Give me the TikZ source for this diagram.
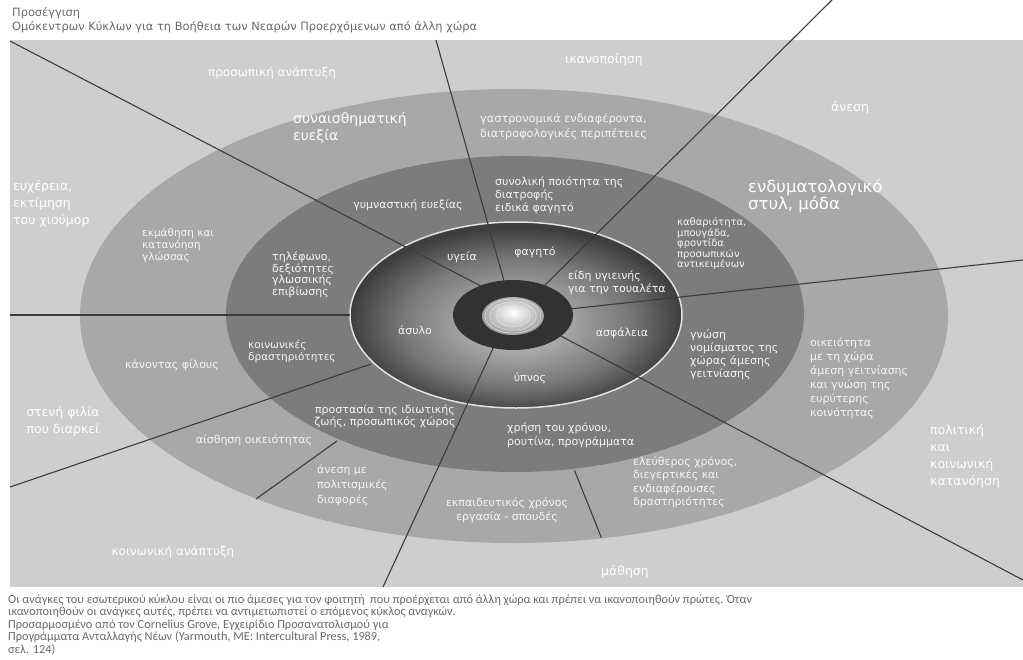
\documentclass[tikz,border=0pt]{standalone}
\usepackage{fontspec}
\setmainfont{DejaVu Sans}
\newfontfamily\notefont{Carlito}
\definecolor{fieldgray}{RGB}{206,206,206}
\definecolor{outergray}{RGB}{168,168,168}
\definecolor{bandgray}{RGB}{124,124,124}
\definecolor{hubdark}{RGB}{50,50,50}
\definecolor{bowlin}{RGB}{200,200,200}
\definecolor{bowlout}{RGB}{62,62,62}
\definecolor{spokegray}{RGB}{60,60,60}
\definecolor{notegray}{RGB}{105,105,105}
% radial shadings are fitted so that 25bp meets the bounding box
\pgfdeclareradialshading{bowl}{\pgfpoint{0bp}{-3bp}}{color(0bp)=(bowlin); color(7bp)=(bowlin!78!bowlout); color(17bp)=(bowlin!42!bowlout); color(25bp)=(bowlout); color(50bp)=(bowlout)}
\pgfdeclareradialshading{knob}{\pgfpoint{0bp}{5bp}}{color(0bp)=(white); color(8bp)=(gray!20); color(18bp)=(gray!50); color(25bp)=(gray!75); color(50bp)=(gray!75)}
\tikzset{
  spoke/.style={draw=spokegray,line width=1.1pt},
  bowl rim/.style={draw=gray!22,line width=1.5pt},
  field label/.style={text=white,font=\fontsize{12.5}{17}\selectfont,inner sep=0pt},
  band label/.style={text=white!96!black,font=\fontsize{11}{13}\selectfont,inner sep=0pt},
  note text/.style={text=notegray,inner sep=0pt,align=left,anchor=west}
}

\begin{document}
\begin{tikzpicture}[x=1pt,y=-1pt]
  \useasboundingbox (0,0) rectangle (1023,659);

  % grey field and the rings, outside in
  \fill[fieldgray] (10,40) rectangle (1023,587);
  \fill[outergray] (514,316) ellipse [x radius=434pt, y radius=227pt];
  \fill[bandgray] (515,314) ellipse [x radius=289pt, y radius=158pt];
  \shade[shading=bowl] (516,315) ellipse [x radius=166pt, y radius=93pt];
  \draw[bowl rim] (516,315) ellipse [x radius=166pt, y radius=93pt];

  % spokes
  \draw[spoke] (10,41) -- (500,296);
  \draw[spoke] (436,40) -- (508,295);
  \draw[spoke] (832,0) -- (530,300);
  \draw[spoke] (1023,260) -- (560,310);
  \draw[spoke] (1023,580) -- (540,325);
  \draw[spoke] (383,587) -- (507,318);
  \draw[spoke] (574.5,470.4) -- (601.5,538);
  \draw[spoke] (337,441) -- (256,499);
  \draw[spoke] (371,364) -- (10,487);
  \draw[spoke] (350,315) -- (10,315);

  % hub
  \fill[hubdark] (513,315) ellipse [x radius=60pt, y radius=35pt];
  \shade[shading=knob] (513,316) ellipse [x radius=31pt, y radius=19pt];
  \foreach \r in {0.55,0.75,0.9}
    \draw[white!80!gray,line width=0.5pt] (513,316) ellipse [x radius=31*\r pt, y radius=19*\r pt];

  % title and source
  \node[note text,font=\fontsize{11.4}{14}\selectfont] (title) at (12,20)
    {Προσέγγιση\\Ομόκεντρων Κύκλων για τη Βοήθεια των Νεαρών Προερχόμενων από άλλη χώρα};
  \node[note text,font=\notefont\fontsize{12.3}{12.5}\selectfont] (source) at (8,625)
    {Οι ανάγκες του εσωτερικού κύκλου είναι οι πιο άμεσες για τον φοιτητή \ που προέρχεται από άλλη χώρα και πρέπει να ικανοποιηθούν πρώτες. Όταν\\
     ικανοποιηθούν οι ανάγκες αυτές, πρέπει να αντιμετωπιστεί ο επόμενος κύκλος αναγκών.\\
     Προσαρμοσμένο από τον Cornelius Grove, Εγχειρίδιο Προσανατολισμού για\\
     Προγράμματα Ανταλλαγής Νέων (Yarmouth, ME: Intercultural Press, 1989,\\
     σελ. 124)};

  % outer field
  \node[field label,font=\fontsize{12}{17}\selectfont] (personal) at (272,73) {προσωπική ανάπτυξη};
  \node[field label] (content) at (604,60) {ικανοποίηση};
  \node[field label] (ease) at (850,108) {άνεση};
  \node[field label,align=left,anchor=west] (humour) at (13,204) {ευχέρεια,\\εκτίμηση\\του χιούμορ};
  \node[field label,align=center] (friendship) at (63,421) {στενή φιλία\\που διαρκεί};
  \node[field label,align=left,anchor=west] (politics) at (930,456) {πολιτική\\και\\κοινωνική\\κατανόηση};
  \node[field label,font=\fontsize{12}{17}\selectfont] (social) at (173,552) {κοινωνική ανάπτυξη};
  \node[field label] (learning) at (625,572) {μάθηση};

  % outer ring
  \node[field label,font=\fontsize{14}{17}\selectfont,align=left,anchor=west] (empathy) at (293,128) {συναισθηματική\\ευεξία};
  \node[band label,font=\fontsize{11.3}{15}\selectfont,align=left,anchor=west] (cuisine) at (480,127) {γαστρονομικά ενδιαφέροντα,\\διατροφολογικές περιπέτειες};
  \node[field label,font=\fontsize{16.5}{16}\selectfont,align=left,anchor=west] (clothing) at (748,196) {ενδυματολογικό\\στυλ, μόδα};
  \node[band label,font=\fontsize{10.5}{12}\selectfont,align=left,anchor=west] (language) at (142,245) {εκμάθηση και\\κατανόηση\\γλώσσας};
  \node[band label] (friends) at (172,365) {κάνοντας φίλους};
  \node[band label] (belonging) at (254,440) {αίσθηση οικειότητας};
  \node[band label,font=\fontsize{11}{14}\selectfont,align=left,anchor=west] (neighbour) at (810,378)
    {οικειότητα\\με τη χώρα\\άμεση γειτνίασης\\και γνώση της\\ευρύτερης\\κοινότητας};
  \node[band label,font=\fontsize{11}{15}\selectfont,align=left,anchor=west] (culture) at (317,485) {άνεση με\\πολιτισμικές\\διαφορές};
  \node[band label,font=\fontsize{11}{14}\selectfont,align=center] (study) at (507,510) {εκπαιδευτικός χρόνος\\εργασία - σπουδές};
  \node[band label,font=\fontsize{11}{13.5}\selectfont,align=left,anchor=west] (leisure) at (633,482)
    {ελεύθερος χρόνος,\\διεγερτικές και\\ενδιαφέρουσες\\δραστηριότητες};

  % middle band
  \node[band label] (fitness) at (408,205) {γυμναστική ευεξίας};
  \node[band label,align=left,anchor=west] (diet) at (495,195) {συνολική ποιότητα της\\διατροφής\\ειδικά φαγητό};
  \node[band label,font=\fontsize{11}{11.5}\selectfont,align=left,anchor=west] (phone) at (272,275) {τηλέφωνο,\\δεξιότητες\\γλωσσικής\\επιβίωσης};
  \node[band label,font=\fontsize{10}{10.5}\selectfont,align=left,anchor=west] (laundry) at (677,244)
    {καθαριότητα,\\μπουγάδα,\\φροντίδα\\προσωπικών\\αντικειμένων};
  \node[band label,font=\fontsize{10.5}{12}\selectfont,align=left,anchor=west] (activities) at (248,351) {κοινωνικές\\δραστηριότητες};
  \node[band label,align=left,anchor=west] (money) at (690,355) {γνώση\\νομίσματος της\\χώρας άμεσης\\γειτνίασης};
  \node[band label,font=\fontsize{11}{12.5}\selectfont,align=center] (privacy) at (385,416) {προστασία της ιδιωτικής\\ζωής, προσωπικός χώρος};
  \node[band label,font=\fontsize{11}{14}\selectfont,align=left,anchor=west] (routine) at (507,435) {χρήση του χρόνου,\\ρουτίνα, προγράμματα};

  % inner ring
  \node[band label] (health) at (462,257) {υγεία};
  \node[band label] (food) at (535,252) {φαγητό};
  \node[band label,align=left,anchor=west] (toiletries) at (568,283) {είδη υγιεινής\\για την τουαλέτα};
  \node[band label] (shelter) at (415,330) {άσυλο};
  \node[band label] (safety) at (622,333) {ασφάλεια};
  \node[band label] (sleep) at (530,378) {ύπνος};
\end{tikzpicture}
\end{document}
